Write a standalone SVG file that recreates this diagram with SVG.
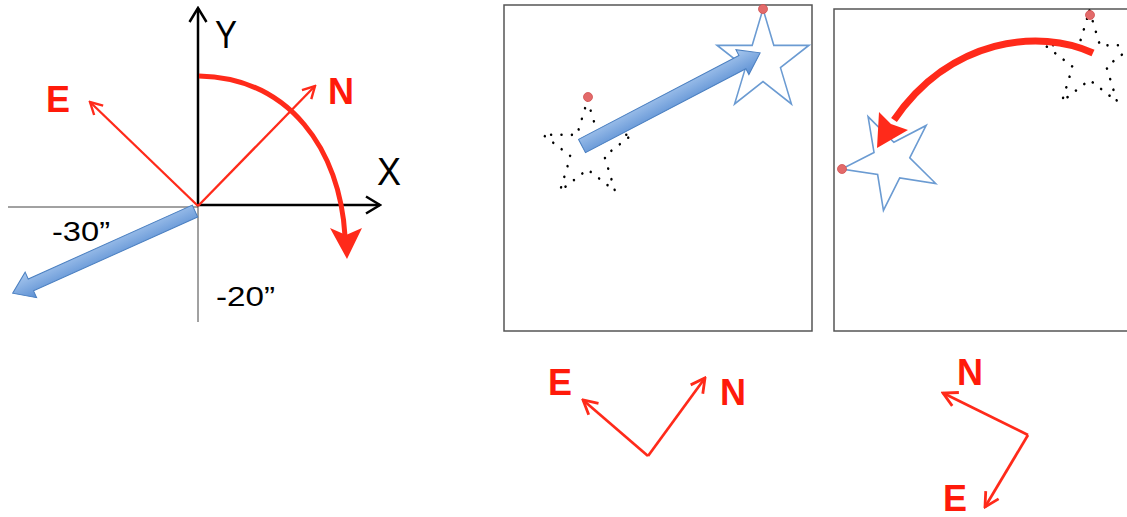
<svg xmlns="http://www.w3.org/2000/svg" width="1127" height="517" viewBox="0 0 1127 517">
<style>
.lbl{font-family:"Liberation Sans",Arial,sans-serif;font-weight:bold;font-size:36px;fill:#ff1a0a}
.ax{font-family:"Liberation Sans",Arial,sans-serif;fill:#000}
.axis{stroke:#000;stroke-width:2.5;fill:none}
.thin{stroke:#444;stroke-width:1;fill:none}
.rline{stroke:#ff2a1a;stroke-width:2.3;fill:none}
.rline2{stroke:#ff2a1a;stroke-width:2.7;fill:none}
.rthick{fill:none;stroke:#ff2a1a;stroke-linecap:butt}
.rhead{fill:#ff2a1a}
.barrow{stroke:#4a7fc0;stroke-width:1}
.panel{fill:#fff;stroke:#555;stroke-width:1.5}
.dstar{fill:none;stroke:#000;stroke-width:2.6;stroke-dasharray:0.1 11;stroke-linecap:round}
.bstar{fill:#fff;stroke:#6b9bd2;stroke-width:1.6}
.dot{fill:#e36a6a;stroke:#d05050;stroke-width:0.8}
</style>
<defs>
<path id="star" d="M0,-50 L11.17,-15.37 L47.55,-15.45 L18.07,5.87 L29.39,40.45 L0,19 L-29.39,40.45 L-18.07,5.87 L-47.55,-15.45 L-11.17,-15.37 Z"/>
<linearGradient id="bgrad" x1="0" y1="0" x2="0" y2="1">
<stop offset="0" stop-color="#a9c8ee"/>
<stop offset="1" stop-color="#5b8fd3"/>
</linearGradient>
<linearGradient id="bgrad2" x1="0" y1="1" x2="0" y2="0">
<stop offset="0" stop-color="#a9c8ee"/>
<stop offset="1" stop-color="#5b8fd3"/>
</linearGradient>
<marker id="blackV" viewBox="-16 -10 18 20" markerWidth="18" markerHeight="20" refX="0" refY="0" orient="auto" markerUnits="userSpaceOnUse">
<path d="M-14,-8.5 L0,0 L-14,8.5" fill="none" stroke="#000" stroke-width="2.5"/>
</marker>
<marker id="redV" viewBox="-14 -8 16 16" markerWidth="16" markerHeight="16" refX="0" refY="0" orient="auto" markerUnits="userSpaceOnUse">
<path d="M-12,-6.5 L0,0 L-12,6.5" fill="none" stroke="#ff2a1a" stroke-width="2.4"/>
</marker>
<marker id="redV2" viewBox="-16 -9 18 18" markerWidth="18" markerHeight="18" refX="0" refY="0" orient="auto" markerUnits="userSpaceOnUse">
<path d="M-14,-7.5 L0,0 L-14,7.5" fill="none" stroke="#ff2a1a" stroke-width="2.8"/>
</marker>
</defs>
<rect width="1127" height="517" fill="#fff"/>

<g id="left-axes">
<line class="thin" x1="8" y1="207" x2="198" y2="207"/>
<line class="thin" x1="198" y1="206" x2="198" y2="322"/>
<line class="axis" x1="198" y1="206" x2="198" y2="8" marker-end="url(#blackV)"/>
<line class="axis" x1="197" y1="205" x2="380" y2="205" marker-end="url(#blackV)"/>
</g>
<g id="label-Y"><text class="ax" x="215" y="48" font-size="38" textLength="22" lengthAdjust="spacingAndGlyphs">Y</text></g>
<g id="label-X"><text class="ax" x="377" y="185" font-size="38" textLength="24" lengthAdjust="spacingAndGlyphs">X</text></g>
<g id="label-m30"><text class="ax" x="52" y="241" font-size="28" textLength="58" lengthAdjust="spacingAndGlyphs">-30”</text></g>
<g id="label-m20"><text class="ax" x="216" y="306" font-size="28" textLength="59" lengthAdjust="spacingAndGlyphs">-20”</text></g>
<g id="label-E1"><text class="lbl" x="46" y="112">E</text></g>
<g id="label-N1"><text class="lbl" x="328" y="104">N</text></g>

<g id="panel-1">
<rect class="panel" x="504" y="5" width="308" height="326"/>
<use href="#star" class="dstar" transform="translate(587.5,150.3) scale(0.936,1.006)"/>
<circle class="dot" cx="588" cy="97" r="4.5"/>
<use href="#star" class="bstar" transform="translate(763,61.5) scale(0.967,1.05)"/>
<circle class="dot" cx="763" cy="9" r="4.5"/>
</g>

<g id="panel-2">
<rect class="panel" x="834" y="9" width="310" height="322"/>
<use href="#star" class="dstar" transform="translate(1089.5,60.8) scale(0.936,1.006)"/>
<circle class="dot" cx="1090" cy="15" r="4.5"/>
<use href="#star" class="bstar" transform="translate(891,161) rotate(-27.3)"/>
<circle class="dot" cx="842" cy="169" r="4.5"/>
</g>

<g id="label-E2"><text class="lbl" x="548" y="395">E</text></g>
<g id="label-N2"><text class="lbl" x="720" y="405">N</text></g>
<g id="label-N3"><text class="lbl" x="957" y="385">N</text></g>
<g id="label-E3"><text class="lbl" x="943" y="511">E</text></g>

<g id="connectors">
<line class="rline" x1="198" y1="206" x2="90" y2="102" marker-end="url(#redV)"/>
<line class="rline" x1="198" y1="206" x2="315" y2="86" marker-end="url(#redV)"/>
<path class="rthick" stroke-width="5" d="M199,76 C290,78 340,150 345,236"/>
<polygon class="rhead" points="330,228 346,235 362,228 347,259"/>
<polygon class="barrow" fill="url(#bgrad2)" transform="translate(195,211) rotate(155.75)" points="0,-6.5 180,-6.5 180,-14 200,0 180,14 180,6.5 0,6.5"/>
<polygon class="barrow" fill="url(#bgrad)" transform="translate(582,146) rotate(-27.6)" points="0,-7.5 181,-7.5 181,-14 201,0 181,14 181,7.5 0,7.5"/>
<path class="rthick" stroke-width="7" d="M1093,53 C1040,28 950,38 894,120"/>
<polygon class="rhead" points="879,112 891,124 908,130 877,148"/>
<line class="rline2" x1="648" y1="456" x2="583" y2="400" marker-end="url(#redV2)"/>
<line class="rline2" x1="648" y1="456" x2="705" y2="378" marker-end="url(#redV2)"/>
<line class="rline2" x1="1028" y1="435" x2="943" y2="393" marker-end="url(#redV2)"/>
<line class="rline2" x1="1028" y1="435" x2="985" y2="507" marker-end="url(#redV2)"/>
</g>
</svg>
